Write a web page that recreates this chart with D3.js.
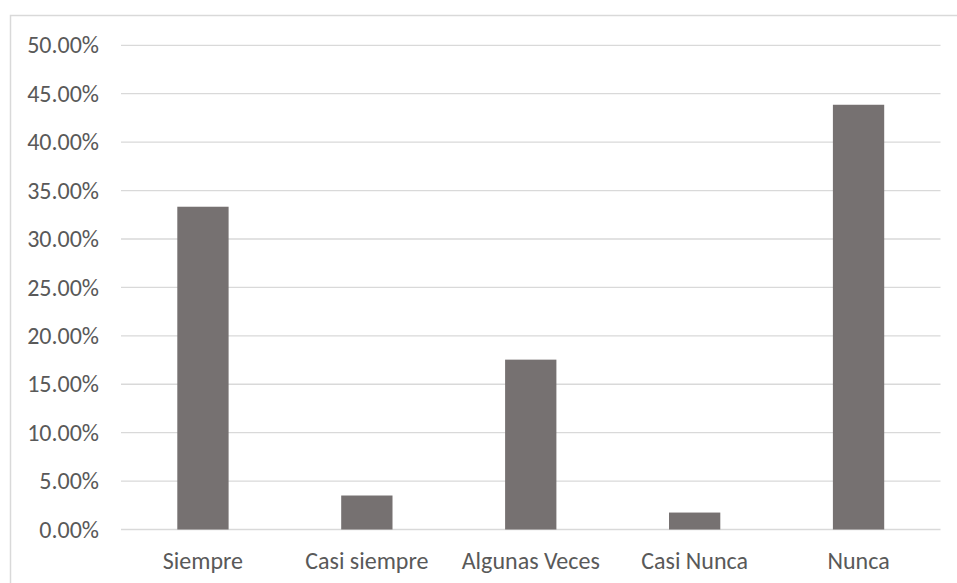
<!DOCTYPE html>
<html lang="es">
<head>
  <meta charset="UTF-8">
  <title>Frecuencia</title>
  <script src="https://d3js.org/d3.v7.min.js"></script>
  <style>
    body { margin: 0; background: #fff; }
    svg { display: block; }
    .lbl { font-family: Calibri, Carlito, "Open Sans", sans-serif; font-size: 24px; fill: #595959; }
  </style>
</head>
<body>
  <svg width="957" height="583"></svg>
  <script>
    const categories = ["Siempre", "Casi siempre", "Algunas Veces", "Casi Nunca", "Nunca"];
    const values = [0.3333, 0.0351, 0.1754, 0.0175, 0.4386];
    const yTicks = [0, 0.05, 0.10, 0.15, 0.20, 0.25, 0.30, 0.35, 0.40, 0.45, 0.50];

    const svg = d3.select("svg");
    const plotLeft = 121, plotRight = 940.5, plotTop = 45.3, plotBottom = 529.5;

    // chart frame
    svg.append("rect")
      .attr("x", 10.5).attr("y", 15.5)
      .attr("width", 960).attr("height", 600)
      .attr("fill", "none").attr("stroke", "#d9d9d9").attr("stroke-width", 1.5);

    const x = d3.scaleBand().domain(categories).range([plotLeft, plotRight]).paddingInner(0.687).paddingOuter(0.3435);
    const y = d3.scaleLinear().domain([0, 0.5]).range([plotBottom, plotTop]);

    // gridlines
    svg.append("g").selectAll("line")
      .data(yTicks).enter().append("line")
      .attr("x1", plotLeft).attr("x2", plotRight)
      .attr("y1", d => y(d)).attr("y2", d => y(d))
      .attr("stroke", "#d9d9d9").attr("stroke-width", 1.3);

    // y labels
    svg.append("g").selectAll("text")
      .data(yTicks).enter().append("text")
      .attr("class", "lbl")
      .attr("x", 99).attr("y", d => y(d))
      .attr("dy", "0.34em")
      .attr("text-anchor", "end")
      .text(d => (d * 100).toFixed(2) + "%");

    // bars
    svg.append("g").selectAll("rect")
      .data(values).enter().append("rect")
      .attr("x", (d, i) => x(categories[i]))
      .attr("width", x.bandwidth())
      .attr("y", d => y(d))
      .attr("height", d => y(0) - y(d))
      .attr("fill", "#767171");

    // x labels
    svg.append("g").selectAll("text")
      .data(categories).enter().append("text")
      .attr("class", "lbl")
      .attr("x", d => x(d) + x.bandwidth() / 2)
      .attr("y", 569)
      .attr("text-anchor", "middle")
      .text(d => d);
  </script>
</body>
</html>
